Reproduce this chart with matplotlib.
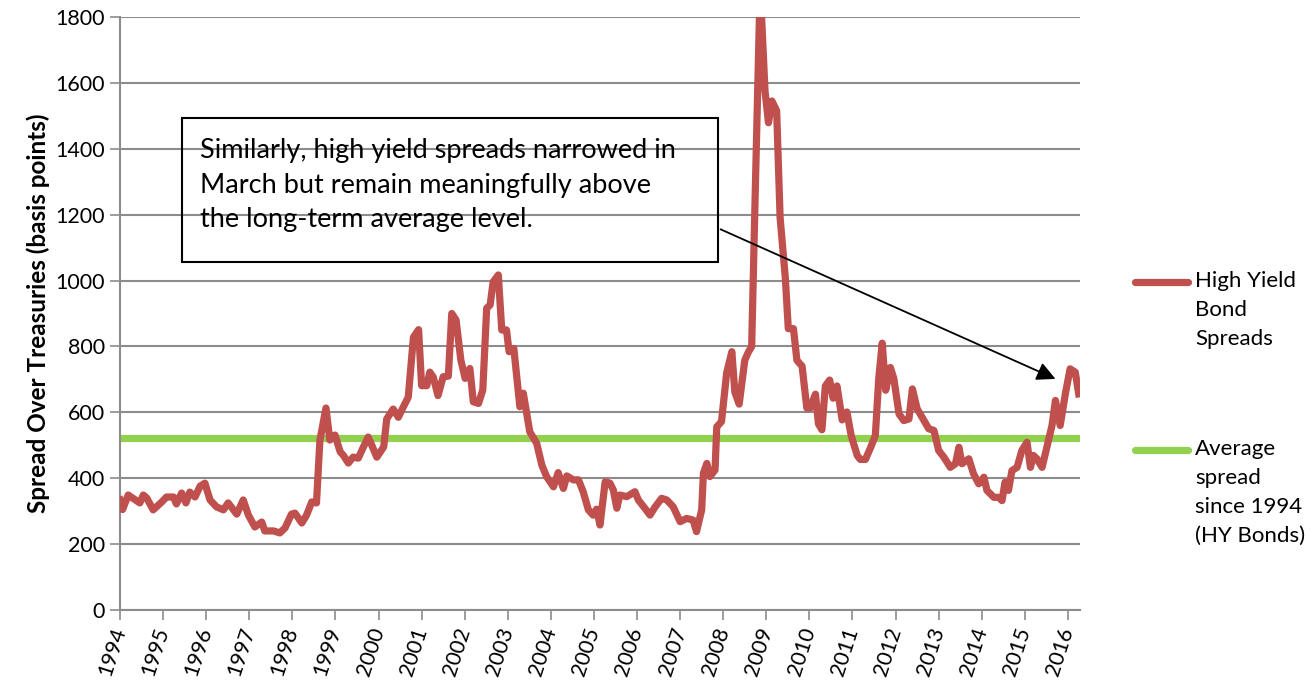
import matplotlib
matplotlib.use("Agg")
import matplotlib.pyplot as plt
from matplotlib.lines import Line2D
from matplotlib.patches import Rectangle

plt.rcParams['font.family'] = ['Lato', 'DejaVu Sans']

# high yield spread, (fractional year, basis points)
years = [1994.00, 1994.06, 1994.19, 1994.46, 1994.54, 1994.62, 1994.77, 1994.97,
         1995.08, 1995.24, 1995.31, 1995.43, 1995.53, 1995.62, 1995.74, 1995.86,
         1995.97, 1996.09, 1996.24, 1996.40, 1996.51, 1996.71, 1996.86, 1996.98,
         1997.13, 1997.29, 1997.36, 1997.56, 1997.71, 1997.83, 1997.98, 1998.06,
         1998.22, 1998.33, 1998.45, 1998.56, 1998.64, 1998.78, 1998.87, 1998.99,
         1999.11, 1999.18, 1999.30, 1999.41, 1999.53, 1999.65, 1999.76, 1999.84,
         1999.96, 2000.12, 2000.19, 2000.34, 2000.46, 2000.57, 2000.69, 2000.81,
         2000.93, 2001.00, 2001.12, 2001.19, 2001.27, 2001.38, 2001.50, 2001.62,
         2001.70, 2001.80, 2001.91, 2002.01, 2002.12, 2002.20, 2002.32, 2002.42,
         2002.51, 2002.59, 2002.66, 2002.78, 2002.86, 2002.97, 2003.03, 2003.14,
         2003.28, 2003.36, 2003.51, 2003.67, 2003.79, 2003.90, 2004.06, 2004.17,
         2004.29, 2004.37, 2004.52, 2004.64, 2004.75, 2004.87, 2004.98, 2005.06,
         2005.14, 2005.26, 2005.37, 2005.45, 2005.53, 2005.60, 2005.76, 2005.95,
         2006.03, 2006.18, 2006.30, 2006.42, 2006.57, 2006.69, 2006.84, 2007.00,
         2007.15, 2007.30, 2007.38, 2007.50, 2007.54, 2007.62, 2007.69, 2007.81,
         2007.85, 2007.96, 2008.08, 2008.20, 2008.27, 2008.37, 2008.50, 2008.58,
         2008.66, 2008.74, 2008.84, 2008.89, 2008.97, 2009.05, 2009.13, 2009.24,
         2009.32, 2009.44, 2009.51, 2009.63, 2009.71, 2009.83, 2009.94, 2010.02,
         2010.14, 2010.21, 2010.29, 2010.37, 2010.47, 2010.55, 2010.64, 2010.76,
         2010.87, 2010.97, 2011.11, 2011.18, 2011.30, 2011.42, 2011.53, 2011.61,
         2011.69, 2011.77, 2011.88, 2011.96, 2012.08, 2012.19, 2012.31, 2012.39,
         2012.50, 2012.66, 2012.77, 2012.89, 2013.00, 2013.12, 2013.27, 2013.39,
         2013.47, 2013.54, 2013.70, 2013.81, 2013.93, 2014.05, 2014.12, 2014.28,
         2014.39, 2014.47, 2014.54, 2014.62, 2014.70, 2014.82, 2014.93, 2015.05,
         2015.13, 2015.20, 2015.28, 2015.40, 2015.51, 2015.63, 2015.71, 2015.82,
         2015.94, 2016.05, 2016.17, 2016.25]
spreads = [334, 305, 349, 325, 349, 340, 304, 328,
           343, 343, 322, 355, 325, 358, 343, 376,
           385, 334, 313, 304, 325, 291, 334, 288,
           252, 267, 240, 240, 234, 249, 291, 294,
           264, 288, 328, 325, 516, 613, 516, 531,
           480, 470, 446, 464, 461, 495, 525, 501,
           464, 495, 580, 610, 585, 615, 646, 828,
           851, 681, 681, 722, 707, 651, 708, 710,
           900, 880, 759, 703, 733, 632, 627, 668,
           916, 926, 996, 1017, 850, 850, 784, 794,
           617, 658, 541, 506, 440, 405, 374, 417,
           369, 407, 395, 395, 359, 304, 288, 306,
           258, 389, 385, 364, 309, 349, 344, 359,
           334, 309, 288, 313, 339, 334, 313, 268,
           278, 273, 238, 304, 415, 445, 405, 425,
           556, 572, 720, 784, 661, 625, 758, 782,
           800, 1251, 1800, 1800, 1575, 1479, 1545, 1515,
           1191, 1010, 854, 854, 758, 740, 613, 613,
           655, 565, 547, 680, 698, 643, 680, 577,
           601, 529, 469, 457, 457, 493, 529, 704,
           810, 667, 736, 702, 595, 575, 580, 671,
           611, 575, 550, 545, 484, 464, 433, 444,
           494, 444, 459, 413, 383, 403, 363, 342,
           342, 332, 388, 363, 423, 433, 484, 509,
           433, 469, 459, 433, 494, 560, 636, 560,
           656, 732, 722, 656]

avg_spread = 522
year_ticks = list(range(1994, 2017))
y_ticks = list(range(0, 1801, 200))

red = '#C0504D'
green = '#92D050'
grid_grey = '#8C8C8C'

fig = plt.figure(figsize=(13.16, 6.92), dpi=100)
ax = fig.add_axes([120/1316, 82/692, 960/1316, 593/692])

ax.plot(years, spreads, color=red, lw=5.2, solid_joinstyle='round', zorder=3)
ax.plot([1994, 2016.28], [avg_spread, avg_spread], color=green, lw=5.2,
        solid_capstyle='round', zorder=2)

ax.set_xlim(1994, 2016.28)
ax.set_ylim(0, 1800)
ax.set_xticks(year_ticks)
ax.set_xticklabels([str(y) for y in year_ticks], rotation=72, ha='right',
                   va='center', rotation_mode='anchor', fontsize=15.5)
ax.set_yticks(y_ticks)
ax.set_yticklabels([str(v) for v in y_ticks], fontsize=15.5)
ax.tick_params(axis='x', length=7, color=grid_grey, width=1.2, pad=6)
ax.tick_params(axis='y', length=7, color=grid_grey, width=1.2, pad=4)
ax.yaxis.grid(True, color=grid_grey, lw=1.5)
ax.set_axisbelow(True)
for s in ['top', 'right']:
    ax.spines[s].set_visible(False)
for s in ['left', 'bottom']:
    ax.spines[s].set_color(grid_grey)
    ax.spines[s].set_linewidth(1.5)

ax.set_ylabel('Spread Over Treasuries (basis points)', fontsize=17.5,
              fontweight='bold', labelpad=4)

# call-out box and arrow
ax.add_patch(Rectangle((1995.44, 1056), 12.44, 437, fill=False, ec='black',
                       lw=1.5, zorder=4))
ax.text(1995.86, 1432, 'Similarly, high yield spreads narrowed in\n'
        'March but remain meaningfully above\nthe long-term average level.',
        fontsize=19.5, va='top', ha='left', linespacing=1.48, zorder=5)
ax.annotate('', xy=(2015.77, 698), xytext=(2007.88, 1159),
            arrowprops=dict(arrowstyle='-|>', color='black', lw=1.3,
                            mutation_scale=28), zorder=5)

# legend drawn by hand so the first line lines up with the swatch
fig.add_artist(Line2D([1135/1316, 1188/1316], [1 - 282/692, 1 - 282/692],
                      color=red, lw=5.2, solid_capstyle='round'))
fig.text(1195/1316, 1 - 271/692, 'High Yield\nBond\nSpreads', fontsize=16,
         va='top', ha='left', linespacing=1.55)
fig.add_artist(Line2D([1135/1316, 1188/1316], [1 - 450/692, 1 - 450/692],
                      color=green, lw=5.2, solid_capstyle='round'))
fig.text(1195/1316, 1 - 439/692, 'Average\nspread\nsince 1994\n(HY Bonds)',
         fontsize=16, va='top', ha='left', linespacing=1.55)

fig.savefig('out.png', dpi=100)
